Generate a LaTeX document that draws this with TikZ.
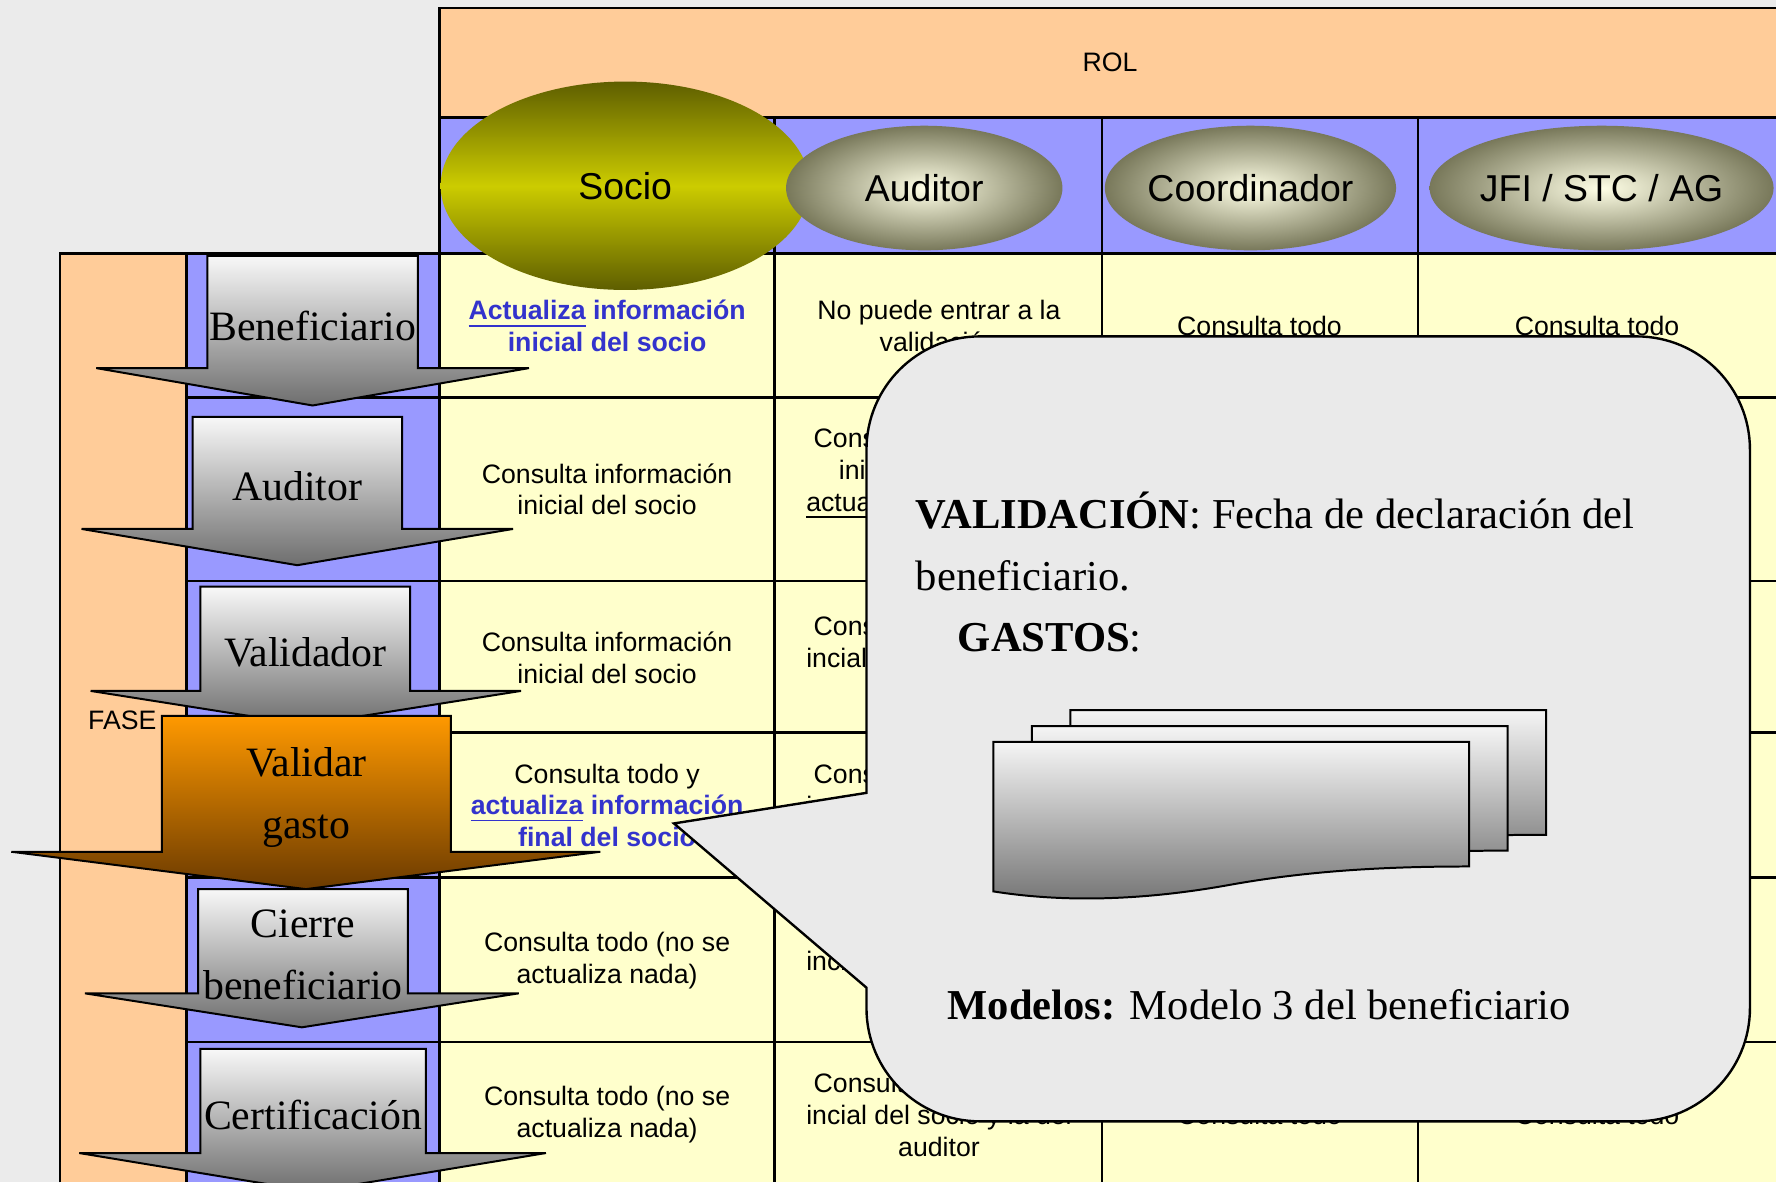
\documentclass[tikz,border=0pt]{standalone}
\usepackage{fontspec}
\setmainfont{Liberation Sans}
\newfontfamily\serifa{Liberation Serif}
\usepackage{xcolor}
\usepackage{tikz}
\usetikzlibrary{shapes.geometric}
\definecolor{fondo}{HTML}{EBEBEB}
\definecolor{melocoton}{HTML}{FFCC99}
\definecolor{lila}{HTML}{9999FF}
\definecolor{crema}{HTML}{FFFFCC}
\definecolor{azulrol}{HTML}{3333CC}
\definecolor{flechaA}{HTML}{F8F8F8}
\definecolor{flechaB}{HTML}{6E6E6E}
\definecolor{naranjaA}{HTML}{FF9900}
\definecolor{naranjaB}{HTML}{6B3A00}
\definecolor{olivo}{HTML}{5E5E00}
\definecolor{amarillo}{HTML}{CCCC00}
\definecolor{luzoval}{HTML}{FFFFE6}
\definecolor{sombraoval}{HTML}{78785A}
\definecolor{globofondo}{HTML}{EAEAEA}
\definecolor{hojaA}{HTML}{F5F5F5}
\definecolor{hojaB}{HTML}{747474}

\begin{document}
\begin{tikzpicture}[x=0.1mm,y=-0.1mm,
    linea/.style={line width=0.7pt},
    celda/.style={font=\fontsize{6.7}{8}\selectfont,align=center,inner sep=0pt},
    destacado/.style={celda,text=azulrol,font=\fontsize{6.7}{8}\selectfont\bfseries},
    rolov/.style={ellipse,inner sep=0pt,font=\fontsize{9.4}{11}\selectfont},
    etiqueta/.style={font=\serifa\fontsize{10.5}{15.6}\selectfont,align=center,inner sep=0pt},
    globo/.style={fill=globofondo,draw=black,line width=0.6pt},
    hoja/.style={draw=black,line width=0.5pt,top color=hojaA,bottom color=hojaB},
    textoglobo/.style={font=\serifa\fontsize{10.7}{15.6}\selectfont,anchor=base west,inner sep=0pt}]
    \fill[fondo] (0,0) rectangle (1568,1044);
    \useasboundingbox (0,0) rectangle (1568,1044);
    % tabla
    \fill[melocoton] (388,7) rectangle (1568,104);
    \fill[lila] (388,104) rectangle (1568,224);
    \fill[melocoton] (53,224) rectangle (165,1044);
    \fill[lila] (165,224) rectangle (388,1044);
    \fill[crema] (388,224) rectangle (1568,1044);
    \draw[linea] (388,1044) -- (388,7) -- (1568,7);
    \draw[linea] (388,104) -- (1568,104);
    \draw[linea] (53,1044) -- (53,224) -- (1568,224);
    \draw[linea] (165,224) -- (165,1044);
    \foreach \x in {684,973,1252}
      \draw[linea] (\x,104) -- (\x,1044);
    \foreach \y in {351,513,647,775,920}
      \draw[linea] (165,\y) -- (1568,\y);
    \node[celda] (rol) at (980,55) {ROL};
    % textos de las celdas
    \node[destacado] (soc1) at (536,288) {\underline{Actualiza} información\\inicial del socio};
    \node[celda] (soc2) at (536,432) {Consulta información\\inicial del socio};
    \node[celda] (soc3) at (536,581) {Consulta información\\inicial del socio};
    \node[celda] (soc4) at (536,711) {Consulta todo y\\\textcolor{azulrol}{\bfseries\underline{actualiza} información}\\\textcolor{azulrol}{\bfseries final del socio}};
    \node[celda] (soc5) at (536,848) {Consulta todo (no se\\actualiza nada)};
    \node[celda] (soc6) at (536,984) {Consulta todo (no se\\actualiza nada)};
    \node[celda] (aud1) at (829,288) {No puede entrar a la\\validación};
    \node[celda] (aud2) at (829,418) {Consulta información\\inicial del socio y\\\underline{actualiza} la del auditor};
    \foreach \y [count=\i from 3] in {581,711,848,984}
      \node[celda] (aud\i) at (829,\y) {Consulta información\\incial del socio y la del\\auditor};
    \foreach \y/\n in {288/1,984/6} {
      \node[celda] (coo\n) at (1112,\y) {Consulta todo};
      \node[celda] (jfi\n) at (1410,\y) {Consulta todo};
    }
    % roles
    \node[rolov,minimum width=32.6mm,minimum height=18.4mm,top color=olivo,bottom color=olivo,middle color=amarillo] (socio) at (552,164) {Socio};
    \node[rolov,minimum width=24.4mm,minimum height=11mm,inner color=luzoval,outer color=sombraoval] (auditor) at (816,166) {Auditor};
    \node[rolov,minimum width=24.4mm,minimum height=11mm,inner color=luzoval,outer color=sombraoval] (coordinador) at (1104,166) {Coordinador};
    \node[rolov,minimum width=29.8mm,minimum height=11mm,inner color=luzoval,outer color=sombraoval] (jfi) at (1414,166) {JFI / STC / AG};
    % fases
    \foreach \xa/\xb/\ya/\yb/\xc/\xd/\yc/\arriba/\abajo/\texto [count=\i] in {
        183/369/226/325/85/467/358/flechaA/flechaB/Beneficiario,
        170/355/368/467/72/453/499/flechaA/flechaB/Auditor,
        177/362/518/610/80/460/640/flechaA/flechaB/Validador,
        143/398/632/752/10/530/785/naranjaA/naranjaB/{Validar\\gasto},
        175/360/785/877/75/458/907/flechaA/flechaB/{Cierre\\beneficiario},
        177/376/926/1018/70/482/1052/flechaA/flechaB/Certificación} {
      \draw[line width=0.5pt,top color=\arriba,bottom color=\abajo] (\xa,\ya) -- (\xb,\ya) -- (\xb,\yb) -- (\xd,\yb)
        -- ({(\xc+\xd)/2},\yc) -- (\xc,\yb) -- (\xa,\yb) -- cycle;
      \node[etiqueta] (fase\i) at ({(\xa+\xb)/2},{(\ya+\yb)/2+12}) {\texto};
    }
    \node[celda] (fase) at (108,636) {FASE};
    % globo
    \draw[globo] (765,700) -- (595,727) -- (765,872) -- (765,882) [rounded corners=10mm] -- (765,990)
      -- (1545,990) -- (1545,297) -- (765,297) -- (765,600) [sharp corners] -- cycle;
    \node[textoglobo] (validacion) at (808,467) {\textbf{VALIDACIÓN}: Fecha de declaración del};
    \node[textoglobo] (benef) at (808,521) {beneficiario.};
    \node[textoglobo] (gastos) at (845,575) {\textbf{GASTOS}:};
    \foreach \dx/\dy in {68/-28,34/-14,0/0}
      \draw[hoja,shift={(\dx,\dy)}] (877,655) -- (1297,655) -- (1297,765)
        .. controls (1230,765) and (1160,768) .. (1087,781)
        .. controls (1010,795) and (940,797) .. (877,787) -- cycle;
    \node[textoglobo] (modelos) at (836,900) {\textbf{Modelos:} Modelo 3 del beneficiario};
\end{tikzpicture}
\end{document}
